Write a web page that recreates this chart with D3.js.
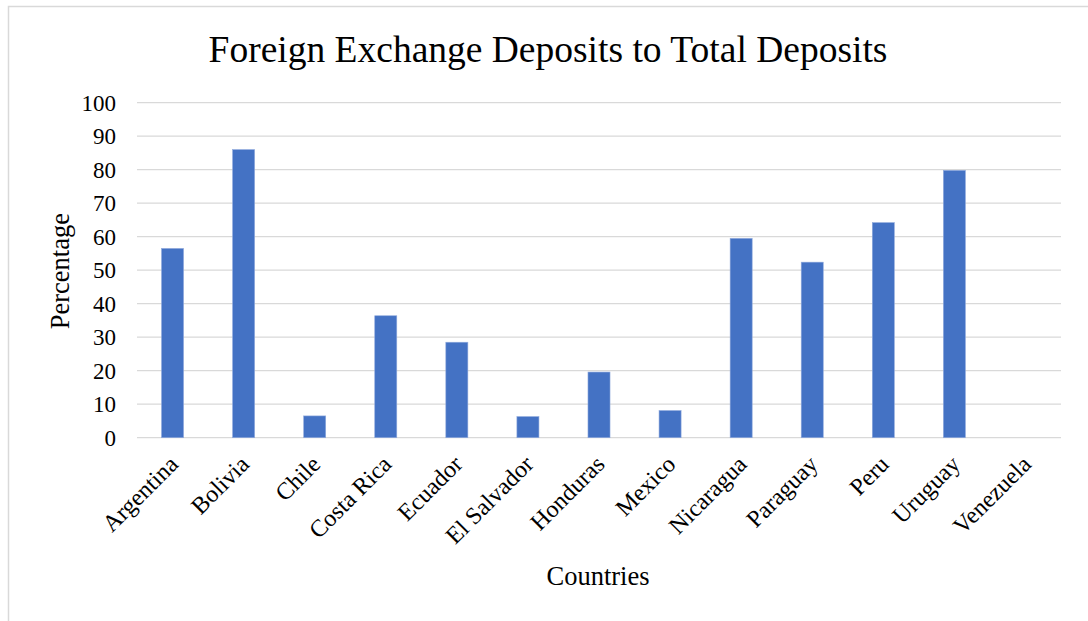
<!DOCTYPE html>
<html>
<head>
<meta charset="utf-8">
<script src="https://cdn.jsdelivr.net/npm/d3@7"></script>
<style>
  html, body { margin: 0; padding: 0; background: #fff; }
  svg { display: block; }
  text { font-family: "Liberation Serif", "Times New Roman", serif; fill: #000; }
</style>
</head>
<body>
<svg id="chart" width="1088" height="621"></svg>
<script>
// Foreign exchange deposits as a share of total deposits, by country (%)
const countries = ["Argentina", "Bolivia", "Chile", "Costa Rica", "Ecuador", "El Salvador",
  "Honduras", "Mexico", "Nicaragua", "Paraguay", "Peru", "Uruguay", "Venezuela"];
const percentages = [56.5, 86.0, 6.5, 36.4, 28.5, 6.3, 19.6, 8.1, 59.5, 52.4, 64.2, 79.8, 0];
const yTicks = [0, 10, 20, 30, 40, 50, 60, 70, 80, 90, 100];

const titleText = "Foreign Exchange Deposits to Total Deposits";
const xTitle = "Countries";
const yTitle = "Percentage";

const svg = d3.select("#chart");
const W = 1088, H = 621;
const margin = { left: 137, right: 27, top: 102.7, bottom: 183.3 };

// outer chart frame
svg.append("rect")
  .attr("x", 8.5).attr("y", 6.5)
  .attr("width", W + 20).attr("height", H + 20)
  .attr("fill", "#fff")
  .attr("stroke", "#d9d9d9").attr("stroke-width", 1.5);

const x = d3.scaleBand()
  .domain(countries)
  .range([margin.left, W - margin.right])
  .paddingInner(0.69)
  .paddingOuter(0.345);

const y = d3.scaleLinear()
  .domain([0, 100])
  .range([H - margin.bottom, margin.top]);

// horizontal gridlines
svg.append("g")
  .selectAll("line")
  .data(yTicks)
  .join("line")
  .attr("x1", margin.left).attr("x2", W - margin.right)
  .attr("y1", d => y(d)).attr("y2", d => y(d))
  .attr("stroke", "#d9d9d9").attr("stroke-width", 1.3);

// y axis labels
const yAxis = d3.axisLeft(y).tickValues(yTicks).tickSize(0).tickPadding(21);
svg.append("g")
  .attr("transform", `translate(${margin.left},0)`)
  .call(yAxis)
  .call(g => g.select(".domain").remove())
  .selectAll("text")
  .style("font-family", '"Liberation Serif", "Times New Roman", serif')
  .style("font-size", "23px")
  .attr("fill", "#000");

// bars
svg.append("g")
  .selectAll("rect")
  .data(countries.map((c, i) => ({ c, v: percentages[i] })))
  .join("rect")
  .attr("x", d => x(d.c))
  .attr("y", d => y(d.v))
  .attr("width", x.bandwidth())
  .attr("height", d => y(0) - y(d.v))
  .attr("fill", "#4472c4")
  .attr("stroke", d => d.v > 0 ? "#8fa9dc" : "none")
  .attr("stroke-width", 0.6);

// x axis labels, rotated
const xAxis = d3.axisBottom(x).tickSize(0).tickPadding(0);
svg.append("g")
  .attr("transform", `translate(0,${y(0)})`)
  .call(xAxis)
  .call(g => g.select(".domain").remove())
  .selectAll("text")
  .style("font-family", '"Liberation Serif", "Times New Roman", serif')
  .style("font-size", "24px")
  .attr("fill", "#000")
  .attr("text-anchor", "end")
  .attr("dy", null)
  .attr("y", 0)
  .attr("transform", "translate(7,28) rotate(-45)");

// title
svg.append("text")
  .attr("x", 548).attr("y", 62)
  .attr("text-anchor", "middle")
  .style("font-size", "37.5px")
  .text(titleText);

// axis titles
svg.append("text")
  .attr("x", 598).attr("y", 585)
  .attr("text-anchor", "middle")
  .style("font-size", "26.5px")
  .text(xTitle);

svg.append("text")
  .attr("transform", `translate(69,${y(50) + 1}) rotate(-90)`)
  .attr("text-anchor", "middle")
  .style("font-size", "26.5px")
  .text(yTitle);
</script>
</body>
</html>
